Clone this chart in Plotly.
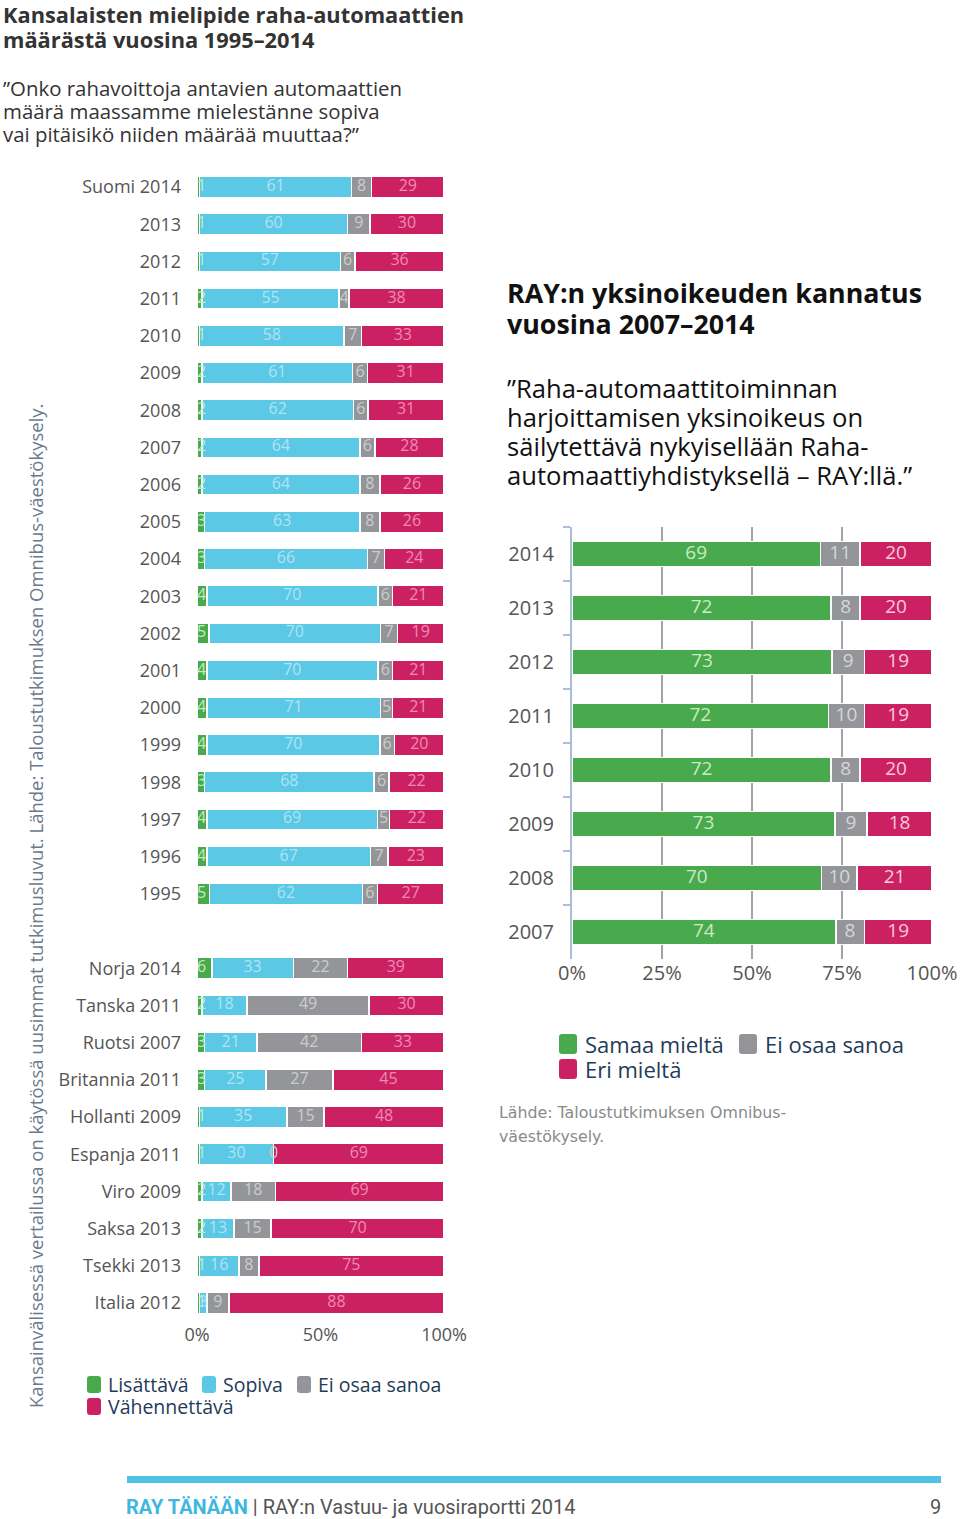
import plotly.graph_objects as go

# ---------------- Data: left chart (Finland 1995-2014 + international) ----------------
fin_labels = ["Suomi 2014", "2013", "2012", "2011", "2010", "2009", "2008", "2007", "2006",
              "2005", "2004", "2003", "2002", "2001", "2000", "1999", "1998", "1997", "1996", "1995"]
fin_lisattava = [1, 1, 1, 2, 1, 2, 2, 2, 2, 3, 3, 4, 5, 4, 4, 4, 3, 4, 4, 5]
fin_sopiva = [61, 60, 57, 55, 58, 61, 62, 64, 64, 63, 66, 70, 70, 70, 71, 70, 68, 69, 67, 62]
fin_eos = [8, 9, 6, 4, 7, 6, 6, 6, 8, 8, 7, 6, 7, 6, 5, 6, 6, 5, 7, 6]
fin_vahennettava = [29, 30, 36, 38, 33, 31, 31, 28, 26, 26, 24, 21, 19, 21, 21, 20, 22, 22, 23, 27]

int_labels = ["Norja 2014", "Tanska 2011", "Ruotsi 2007", "Britannia 2011", "Hollanti 2009",
              "Espanja 2011", "Viro 2009", "Saksa 2013", "Tsekki 2013", "Italia 2012"]
int_lisattava = [6, 2, 3, 3, 1, 1, 2, 2, 1, 1]
int_sopiva = [33, 18, 21, 25, 35, 30, 12, 13, 16, 3]
int_eos = [22, 49, 42, 27, 15, 0, 18, 15, 8, 9]
int_vahennettava = [39, 30, 33, 45, 48, 69, 69, 70, 75, 88]

left_ticks = [0, 50, 100]
left_ticktext = ["0%", "50%", "100%"]

# ---------------- Data: right chart (RAY monopoly support 2007-2014) ----------------
ray_years = ["2014", "2013", "2012", "2011", "2010", "2009", "2008", "2007"]
ray_samaa = [69, 72, 73, 72, 72, 73, 70, 74]
ray_eos = [11, 8, 9, 10, 8, 9, 10, 8]
ray_eri = [20, 20, 19, 19, 20, 18, 21, 19]

right_ticks = [0, 25, 50, 75, 100]
right_ticktext = ["0%", "25%", "50%", "75%", "100%"]

# ---------------- Styles ----------------
GREEN = "#49a94d"
CYAN = "#5bc8e6"
GRAY = "#939598"
PINK = "#cb2162"
FONT = "Open Sans, Noto Sans, sans-serif"
W, H = 960, 1519


def px(x):
    return x / W


def py(y):
    return 1 - y / H


# combine left data
left_labels = fin_labels + int_labels
left_series = [
    ("Lisättävä", fin_lisattava + int_lisattava, GREEN, "#c3ecbd"),
    ("Sopiva", fin_sopiva + int_sopiva, CYAN, "#b0e4f3"),
    ("Ei osaa sanoa", fin_eos + int_eos, GRAY, "#cdcdcf"),
    ("Vähennettävä", fin_vahennettava + int_vahennettava, PINK, "#f08ab3"),
]
category_order = fin_labels + [" "] + int_labels

totals = [sum(s[1][i] for s in left_series) for i in range(len(left_labels))]

fig = go.Figure()

# left stacked bars (normalised to 100 %)
cum = [0.0] * len(left_labels)
label_traces = []
for k, (name, vals, color, tcol) in enumerate(left_series):
    norm = [v / t * 100 for v, t in zip(vals, totals)]
    fig.add_trace(go.Bar(
        y=left_labels, x=norm, orientation="h", name=name,
        marker=dict(color=color, line=dict(color="white", width=1.5)),
        width=0.57, showlegend=False, hoverinfo="skip",
        xaxis="x", yaxis="y",
    ))
    if k == 0:
        xs = [0.0] * len(vals)
        pos = "middle right"
    else:
        xs = [c + n / 2 for c, n in zip(cum, norm)]
        pos = "middle center"
    label_traces.append(go.Scatter(
        x=xs, y=left_labels, mode="text", text=[str(v) for v in vals],
        textposition=pos, textfont=dict(family=FONT, size=16, color=tcol),
        showlegend=False, hoverinfo="skip", cliponaxis=False,
        xaxis="x", yaxis="y",
    ))
    cum = [c + n for c, n in zip(cum, norm)]

# right stacked bars
right_series = [
    ("Samaa mieltä", ray_samaa, GREEN, "#c8ecc2"),
    ("Ei osaa sanoa", ray_eos, GRAY, "#d6d6d8"),
    ("Eri mieltä", ray_eri, PINK, "#f7cadb"),
]
rtotals = [sum(s[1][i] for s in right_series) for i in range(len(ray_years))]
rcum = [0.0] * len(ray_years)
for name, vals, color, tcol in right_series:
    norm = [v / t * 100 for v, t in zip(vals, rtotals)]
    fig.add_trace(go.Bar(
        y=ray_years, x=norm, orientation="h", name=name,
        marker=dict(color=color, line=dict(color="white", width=1.5)),
        width=0.47, showlegend=False, hoverinfo="skip",
        xaxis="x2", yaxis="y2",
    ))
    label_traces.append(go.Scatter(
        x=[c + n / 2 for c, n in zip(rcum, norm)], y=ray_years, mode="text",
        text=[str(v) for v in vals], textposition="middle center",
        textfont=dict(family=FONT, size=19, color=tcol),
        showlegend=False, hoverinfo="skip", cliponaxis=False,
        xaxis="x2", yaxis="y2",
    ))
    rcum = [c + n for c, n in zip(rcum, norm)]

for t in label_traces:
    fig.add_trace(t)

# ---------------- Layout ----------------
left_top, left_bottom = 168.4, 1321.6
right_top, right_bottom = 527, 959
n_left = len(category_order)
n_right = len(ray_years)

fig.update_layout(
    width=W, height=H, margin=dict(l=0, r=0, t=0, b=0, pad=0, autoexpand=False),
    paper_bgcolor="white", plot_bgcolor="rgba(0,0,0,0)",
    barmode="stack", bargap=0.43,
    font=dict(family=FONT, color="#444"),
    xaxis=dict(domain=[px(197), px(444)], range=[0, 100], tickvals=left_ticks,
               ticktext=left_ticktext, showgrid=False, zeroline=False, showline=False,
               tickfont=dict(size=18, color="#555"), anchor="y", automargin=False),
    yaxis=dict(domain=[py(left_bottom), py(left_top)], type="category",
               categoryorder="array", categoryarray=category_order,
               range=[n_left - 0.5, -0.5],
               showgrid=False, zeroline=False, showline=False, ticks="",
               ticklabelstandoff=15, tickfont=dict(size=18, color="#555"), anchor="x",
               automargin=False),
    xaxis2=dict(domain=[px(572), px(932)], range=[0, 100], tickvals=right_ticks,
                ticktext=right_ticktext, showgrid=True, gridcolor="#a3a4a6", gridwidth=2,
                zeroline=False, showline=False, tickfont=dict(size=20, color="#555"),
                anchor="y2", layer="below traces", automargin=False),
    yaxis2=dict(domain=[py(right_bottom), py(right_top)], type="category",
                categoryorder="array", categoryarray=ray_years,
                range=[n_right - 0.5, -0.5],
                showgrid=False, zeroline=False, showline=True, linecolor="#a9bfd6",
                linewidth=2, ticks="outside", tickson="boundaries", ticklen=7,
                tickcolor="#a9bfd6", tickwidth=2, ticklabelstandoff=12,
                tickfont=dict(size=20, color="#555"), anchor="x2", automargin=False),
)

ann = []
shapes = []


def text(x, y, s, size, color, bold=False, family=FONT, xanchor="left", **kw):
    if bold:
        s = "<b>" + s + "</b>"
    ann.append(dict(xref="paper", yref="paper", x=px(x), y=py(y), text=s, showarrow=False,
                    xanchor=xanchor, yanchor="middle", borderpad=0,
                    font=dict(family=family, size=size, color=color), **kw))


# left title & question
text(2, 14.5, "Kansalaisten mielipide raha-automaattien", 21.8, "#333333", bold=True)
text(2, 39.5, "määrästä vuosina 1995–2014", 21.8, "#333333", bold=True)
text(2, 88, "”Onko rahavoittoja antavien automaattien", 20.4, "#333333")
text(2, 111, "määrä maassamme mielestänne sopiva", 20.4, "#333333")
text(2, 134, "vai pitäisikö niiden määrää muuttaa?”", 20.4, "#333333")

# right title & statement
text(506, 292, "RAY:n yksinoikeuden kannatus", 26.8, "#111111", bold=True)
text(506, 324, "vuosina 2007–2014", 26.8, "#111111", bold=True)
text(506, 388, "”Raha-automaattitoiminnan", 25.6, "#111111")
text(506, 418, "harjoittamisen yksinoikeus on", 25.6, "#111111")
text(506, 447, "säilytettävä nykyisellään Raha-", 25.6, "#111111")
text(506, 476, "automaattiyhdistyksellä – RAY:llä.”", 25.6, "#111111")

# vertical note
ann.append(dict(xref="paper", yref="paper", x=px(35), y=py(906),
                text="Kansainvälisessä vertailussa on käytössä uusimmat tutkimusluvut. "
                     "Lähde: Taloustutkimuksen Omnibus-väestökysely.",
                showarrow=False, textangle=-90, xanchor="center", yanchor="middle",
                font=dict(family=FONT, size=18.5, color="#6a7b8c")))

# manual legends with rounded swatches
LEG_COL = "#1f3b57"


def rounded_rect(x0, y0, w, h, r):
    X = lambda v: px(v)
    Y = lambda v: py(v)
    x1, y1 = x0 + w, y0 + h
    return (f"M {X(x0 + r)},{Y(y0)} L {X(x1 - r)},{Y(y0)} Q {X(x1)},{Y(y0)} {X(x1)},{Y(y0 + r)} "
            f"L {X(x1)},{Y(y1 - r)} Q {X(x1)},{Y(y1)} {X(x1 - r)},{Y(y1)} "
            f"L {X(x0 + r)},{Y(y1)} Q {X(x0)},{Y(y1)} {X(x0)},{Y(y1 - r)} "
            f"L {X(x0)},{Y(y0 + r)} Q {X(x0)},{Y(y0)} {X(x0 + r)},{Y(y0)} Z")


def legend_item(x0, y0, w, h, color, tx, label, size):
    shapes.append(dict(type="path", xref="paper", yref="paper",
                       path=rounded_rect(x0, y0, w, h, 3),
                       fillcolor=color, line=dict(width=0)))
    text(tx, y0 + h / 2, label, size, LEG_COL)


legend_item(87, 1376, 14, 17, GREEN, 107, "Lisättävä", 19.5)
legend_item(202, 1376, 14, 17, CYAN, 222, "Sopiva", 19.5)
legend_item(297, 1376, 14, 17, GRAY, 317, "Ei osaa sanoa", 19.5)
legend_item(87, 1398, 14, 17, PINK, 107, "Vähennettävä", 19.5)

legend_item(559, 1034, 18, 20, GREEN, 584, "Samaa mieltä", 22)
legend_item(739, 1034, 18, 20, GRAY, 764, "Ei osaa sanoa", 22)
legend_item(559, 1059, 18, 20, PINK, 584, "Eri mieltä", 22)

# right source
text(498, 1112, "Lähde: Taloustutkimuksen Omnibus-", 15.8, "#8a8a8a", family="DejaVu Sans, sans-serif")
text(498, 1136, "väestökysely.", 15.8, "#8a8a8a", family="DejaVu Sans, sans-serif")

# footer
shapes.append(dict(type="rect", xref="paper", yref="paper", x0=px(127), x1=px(941),
                   y0=py(1483), y1=py(1476), fillcolor="#4fc3e3", line=dict(width=0)))
text(125, 1507, "<b><span style='color:#3fb8df'>RAY TÄNÄÄN</span></b>"
     "<span style='color:#555'> | RAY:n Vastuu- ja vuosiraportti 2014</span>",
     20, "#555", family="Roboto, sans-serif")
text(942, 1507, "9", 20, "#555", family="Roboto, sans-serif", xanchor="right")

fig.update_layout(annotations=ann, shapes=shapes)

fig.write_html("out.html", config={"displayModeBar": False},
               post_script="document.body.style.margin='0';")
